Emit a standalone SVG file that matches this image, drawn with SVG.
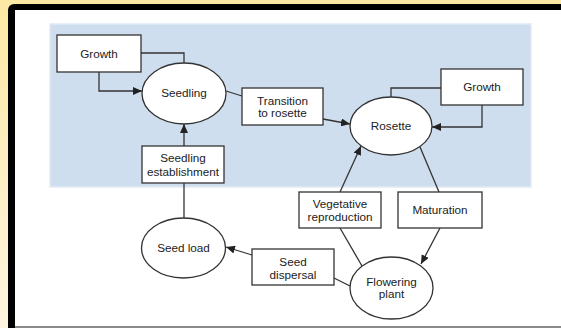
<svg xmlns="http://www.w3.org/2000/svg" width="561" height="328" viewBox="0 0 561 328">
<defs>
<linearGradient id="bg" x1="0" y1="0" x2="0" y2="1">
<stop offset="0" stop-color="#fde8a4"/>
<stop offset="1" stop-color="#fef5e0"/>
</linearGradient>
<marker id="arr" markerUnits="userSpaceOnUse" markerWidth="10" markerHeight="8" refX="9" refY="4" orient="auto">
<path d="M0,0 L9,4 L0,8 z" fill="#222"/>
</marker>
<style>
.box{fill:#fff;stroke:#333;stroke-width:1.3}
.ell{fill:#fff;stroke:#333;stroke-width:1.3}
.c{fill:none;stroke:#333;stroke-width:1.3}
.a{marker-end:url(#arr)}
text{font-family:"Liberation Sans",Arial,sans-serif;font-size:11.7px;fill:#222;text-anchor:middle}
</style>
</defs>
<rect x="0" y="0" width="561" height="328" fill="url(#bg)"/>
<rect x="8" y="4" width="600" height="400" rx="6" fill="#000"/>
<rect x="15" y="10" width="546" height="316" fill="#fff"/>
<rect x="15" y="326" width="546" height="2" fill="#8a8a8a"/>
<rect x="50" y="24" width="481" height="163" fill="#cfdeee" stroke="#e2eaf4" stroke-width="1.5"/>

<g id="connectors">
<path class="c" d="M141,53 H184 V63"/>
<path class="c a" d="M99,72 V91 H142"/>
<path class="c" d="M226,91 L242,96"/>
<path class="c a" d="M323,119 L350,124"/>
<path class="c" d="M441,88 H391 V97"/>
<path class="c a" d="M482,105 V127 H432"/>
<path class="c a" d="M184,146 V124"/>
<path class="c" d="M184,183 V218"/>
<path class="c a" d="M252,255 L226,247"/>
<path class="c" d="M334,278 L350,286"/>
<path class="c a" d="M340,192 L361,146"/>
<path class="c" d="M420,147 L439,192"/>
<path class="c a" d="M440,228 L421,264"/>
<path class="c" d="M340,228 L362,266"/>
</g>

<g id="growth1"><rect class="box" x="57" y="35" width="84" height="37"/><text x="99" y="58">Growth</text></g>
<g id="seedling"><ellipse class="ell" cx="184" cy="93.5" rx="42" ry="30.5"/><text x="184" y="97">Seedling</text></g>
<g id="transition"><rect class="box" x="242" y="88" width="81" height="37"/><text x="282.5" y="105">Transition</text><text x="282.5" y="117">to rosette</text></g>
<g id="rosette"><ellipse class="ell" cx="391" cy="126" rx="41" ry="29"/><text x="391" y="130">Rosette</text></g>
<g id="growth2"><rect class="box" x="441" y="69" width="82" height="36"/><text x="482" y="91">Growth</text></g>
<g id="establishment"><rect class="box" x="142" y="146" width="82" height="37"/><text x="183" y="162">Seedling</text><text x="183" y="176">establishment</text></g>
<g id="seedload"><ellipse class="ell" cx="183.5" cy="248" rx="42" ry="30"/><text x="183.5" y="252">Seed load</text></g>
<g id="dispersal"><rect class="box" x="252" y="249" width="82" height="36"/><text x="293" y="266">Seed</text><text x="293" y="279">dispersal</text></g>
<g id="flowering"><ellipse class="ell" cx="391.5" cy="288" rx="41.5" ry="31"/><text x="391.5" y="286">Flowering</text><text x="391.5" y="298">plant</text></g>
<g id="vegetative"><rect class="box" x="299" y="192" width="82" height="36"/><text x="340" y="208">Vegetative</text><text x="340" y="221">reproduction</text></g>
<g id="maturation"><rect class="box" x="398" y="192" width="84" height="36"/><text x="440" y="214">Maturation</text></g>
</svg>
